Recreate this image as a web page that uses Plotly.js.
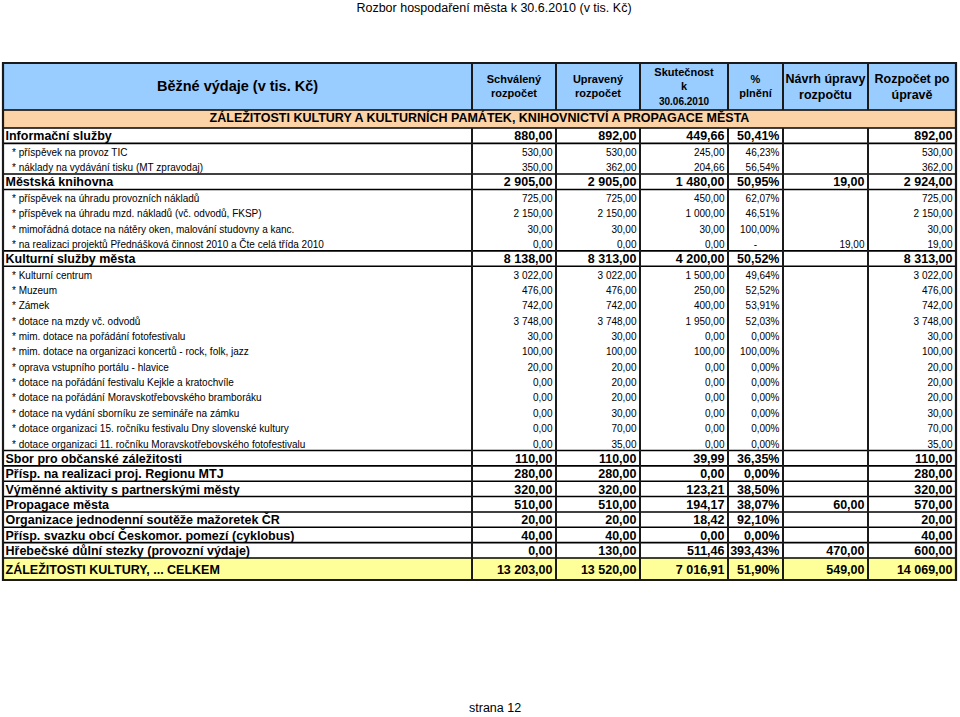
<!DOCTYPE html>
<html>
<head>
<meta charset="utf-8">
<script src="https://cdn.plot.ly/plotly-3.0.1.min.js"></script>
<style>
html,body{margin:0;padding:0;background:#ffffff;}
#chart{width:960px;height:717px;}
</style>
</head>
<body>
<div id="chart"></div>
<script>
// ---------------- DATA ----------------
const pageTitle = 'Rozbor hospodaření města k 30.6.2010 (v tis. Kč)';
const pageFooter = 'strana 12';
const sectionTitle = 'ZÁLEŽITOSTI KULTURY A KULTURNÍCH PAMÁTEK, KNIHOVNICTVÍ A PROPAGACE MĚSTA';

const columnHeaders = [
  'Běžné výdaje (v tis. Kč)',
  'Schválený<br>rozpočet',
  'Upravený<br>rozpočet',
  'Skutečnost<br>k<br><span style="font-size:10px">30.06.2010</span>',
  '%<br>plnění',
  'Návrh úpravy<br>rozpočtu',
  'Rozpočet po<br>úpravě'
];

const rowLabels = [
  'Informační služby',
  '* příspěvek na provoz TIC',
  '* náklady na vydávání tisku (MT zpravodaj)',
  'Městská knihovna',
  '* příspěvek na úhradu provozních nákladů',
  '* příspěvek na úhradu mzd. nákladů (vč. odvodů, FKSP)',
  '* mimořádná dotace na nátěry oken, malování studovny a kanc.',
  '* na realizaci projektů Přednášková činnost 2010 a Čte celá třída 2010',
  'Kulturní služby města',
  '* Kulturní centrum',
  '* Muzeum',
  '* Zámek',
  '* dotace na mzdy vč. odvodů',
  '* mim. dotace na pořádání fotofestivalu',
  '* mim. dotace na organizaci koncertů - rock, folk, jazz',
  '* oprava vstupního portálu - hlavice',
  '* dotace na pořádání festivalu Kejkle a kratochvíle',
  '* dotace na pořádání Moravskotřebovského bramboráku',
  '* dotace na vydání sborníku ze semináře na zámku',
  '* dotace organizaci 15. ročníku festivalu Dny slovenské kultury',
  '* dotace organizaci 11. ročníku Moravskotřebovského fotofestivalu',
  'Sbor pro občanské záležitosti',
  'Přísp. na realizaci proj. Regionu MTJ',
  'Výměnné aktivity s partnerskými městy',
  'Propagace města',
  'Organizace jednodenní soutěže mažoretek ČR',
  'Přísp. svazku obcí Českomor. pomezí (cyklobus)',
  'Hřebečské důlní stezky (provozní výdaje)',
  'ZÁLEŽITOSTI KULTURY, ... CELKEM'
];

// row kind: 'group' = summary row, 'item' = detail row, 'total' = grand total
const rowKinds = [
  'group','item','item',
  'group','item','item','item','item',
  'group','item','item','item','item','item','item','item','item','item','item','item','item',
  'group','group','group','group','group','group','group',
  'total'
];

const schvalenyRozpocet = [880, 530, 350, 2905, 725, 2150, 30, 0, 8138, 3022, 476, 742, 3748, 30, 100, 20, 0, 0, 0, 0, 0, 110, 280, 320, 510, 20, 40, 0, 13203];
const upravenyRozpocet  = [892, 530, 362, 2905, 725, 2150, 30, 0, 8313, 3022, 476, 742, 3748, 30, 100, 20, 20, 20, 30, 70, 35, 110, 280, 320, 510, 20, 40, 130, 13520];
const skutecnost        = [449.66, 245, 204.66, 1480, 450, 1000, 30, 0, 4200, 1500, 250, 400, 1950, 0, 100, 0, 0, 0, 0, 0, 0, 39.99, 0, 123.21, 194.17, 18.42, 0, 511.46, 7016.91];
const plneniPct         = [50.41, 46.23, 56.54, 50.95, 62.07, 46.51, 100, null, 50.52, 49.64, 52.52, 53.91, 52.03, 0, 100, 0, 0, 0, 0, 0, 0, 36.35, 0, 38.50, 38.07, 92.10, 0, 393.43, 51.90];
const navrhUpravy       = [null, null, null, 19, null, null, null, 19, null, null, null, null, null, null, null, null, null, null, null, null, null, null, null, null, 60, null, null, 470, 549];
const rozpocetPoUprave  = [892, 530, 362, 2924, 725, 2150, 30, 19, 8313, 3022, 476, 742, 3748, 30, 100, 20, 20, 20, 30, 70, 35, 110, 280, 320, 570, 20, 40, 600, 14069];

// ---------------- FORMATTING ----------------
function fmtNum(v) {
  if (v === null || v === undefined) return '';
  const parts = v.toFixed(2).split('.');
  const intPart = parts[0].replace(/\B(?=(\d{3})+(?!\d))/g, ' ');
  return intPart + ',' + parts[1];
}
function fmtPct(v) {
  if (v === null || v === undefined) return '-';
  return v.toFixed(2).replace('.', ',') + '%';
}

// ---------------- GEOMETRY (layout) ----------------
const W = 960, H = 717;
const colEdges = [3, 472, 556, 640, 728, 783, 868, 956];
const headerTop = 63, headerBottom = 110, sectionBottom = 128;
const bodyBottom = 558, totalBottom = 580;
const nBody = rowLabels.length - 1;
const rowH = (bodyBottom - sectionBottom) / nBody;
function rowTop(r) { return r < nBody ? sectionBottom + r * rowH : bodyBottom; }
function rowBottom(r) { return r < nBody ? sectionBottom + (r + 1) * rowH : totalBottom; }
function rowCenter(r) { return (rowTop(r) + rowBottom(r)) / 2; }

const FONT = 'Liberation Sans, Arial, Helvetica, sans-serif';
const BOLD_SIZE = 12.5, ITEM_SIZE = 10;

// ---------------- TEXT TRACES ----------------
const columns = [schvalenyRozpocet, upravenyRozpocet, skutecnost, plneniPct, navrhUpravy, rozpocetPoUprave];

const boldPts = {x: [], y: [], text: [], pos: []};
const itemPts = {x: [], y: [], text: [], pos: []};

rowLabels.forEach(function (label, r) {
  const kind = rowKinds[r];
  const isBold = kind !== 'item';
  const tgt = isBold ? boldPts : itemPts;
  const y = rowCenter(r) + (isBold ? 1.6 : 2.2);
  tgt.x.push(colEdges[0] + (isBold ? 2.5 : 9));
  tgt.y.push(y);
  tgt.text.push(isBold ? '<b>' + label + '</b>' : label);
  tgt.pos.push('middle right');
  columns.forEach(function (col, c) {
    const v = col[r];
    const s = (c === 3) ? fmtPct(v) : fmtNum(v);
    if (s === '') return;
    const left = colEdges[c + 1], right = colEdges[c + 2];
    if (s === '-') {
      tgt.x.push((left + right) / 2);
      tgt.pos.push('middle center');
    } else {
      tgt.x.push(right - 3.5);
      tgt.pos.push('middle left');
    }
    tgt.y.push(y);
    tgt.text.push(isBold ? '<b>' + s + '</b>' : s);
  });
});

const headerSizes = [14.5, 11, 11, 11, 11, 12.5, 12.5];
const headerTrace = {
  type: 'scatter', mode: 'text', hoverinfo: 'skip', cliponaxis: false, showlegend: false,
  x: columnHeaders.map(function (_, i) { return (colEdges[i] + colEdges[i + 1]) / 2; }),
  y: columnHeaders.map(function () { return (headerTop + headerBottom) / 2 + 1; }),
  text: columnHeaders.map(function (h) { return '<b>' + h + '</b>'; }),
  textposition: 'middle center',
  textfont: {family: FONT, size: headerSizes, color: '#000000'}
};

const sectionTrace = {
  type: 'scatter', mode: 'text', hoverinfo: 'skip', cliponaxis: false, showlegend: false,
  x: [(colEdges[0] + colEdges[colEdges.length - 1]) / 2],
  y: [(headerBottom + sectionBottom) / 2],
  text: ['<b>' + sectionTitle + '</b>'],
  textposition: 'middle center',
  textfont: {family: FONT, size: BOLD_SIZE, color: '#000000'}
};

const boldTrace = {
  type: 'scatter', mode: 'text', hoverinfo: 'skip', cliponaxis: false, showlegend: false,
  x: boldPts.x, y: boldPts.y, text: boldPts.text, textposition: boldPts.pos,
  textfont: {family: FONT, size: BOLD_SIZE, color: '#000000'}
};
const itemTrace = {
  type: 'scatter', mode: 'text', hoverinfo: 'skip', cliponaxis: false, showlegend: false,
  x: itemPts.x, y: itemPts.y, text: itemPts.text, textposition: itemPts.pos,
  textfont: {family: FONT, size: ITEM_SIZE, color: '#000000'}
};

// ---------------- SHAPES ----------------
const L = colEdges[0], R = colEdges[colEdges.length - 1];
const shapes = [];
function rect(x0, y0, x1, y1, fill) {
  shapes.push({type: 'rect', xref: 'x', yref: 'y', x0: x0, y0: y0, x1: x1, y1: y1,
    fillcolor: fill, line: {width: 0}, layer: 'below'});
}
function hline(y, w) {
  shapes.push({type: 'line', xref: 'x', yref: 'y', x0: L, x1: R, y0: y, y1: y,
    line: {color: '#000000', width: w || 1.5}, layer: 'above'});
}
function vline(x, y0, y1, w) {
  shapes.push({type: 'line', xref: 'x', yref: 'y', x0: x, x1: x, y0: y0, y1: y1,
    line: {color: '#1a1a1a', width: w || 2}, layer: 'above'});
}
rect(L, headerTop, R, headerBottom, '#99CCFF');
rect(L, headerBottom, R, sectionBottom, '#FBD3A6');
rect(L, rowTop(rowLabels.length - 1), R, rowBottom(rowLabels.length - 1), '#FFFF99');

const hYs = new Set([headerBottom, sectionBottom]);
rowKinds.forEach(function (k, r) {
  if (k !== 'item') {
    hYs.add(+rowTop(r).toFixed(3));
    hYs.add(+rowBottom(r).toFixed(3));
  }
});
hYs.forEach(function (y) { hline(y, 1.6); });
for (let i = 1; i < colEdges.length - 1; i++) {
  vline(colEdges[i], headerTop, headerBottom);
  vline(colEdges[i], sectionBottom, totalBottom);
}
shapes.push({type: 'rect', xref: 'x', yref: 'y', x0: L, y0: headerTop, x1: R, y1: totalBottom,
  fillcolor: 'rgba(0,0,0,0)', line: {color: '#1a1a1a', width: 2.2}, layer: 'above'});

// ---------------- LAYOUT ----------------
const layout = {
  width: W, height: H,
  margin: {l: 0, r: 0, t: 0, b: 0, pad: 0},
  paper_bgcolor: '#ffffff', plot_bgcolor: '#ffffff',
  showlegend: false,
  xaxis: {range: [0, W], visible: false, fixedrange: true},
  yaxis: {range: [H, 0], visible: false, fixedrange: true},
  title: {
    text: pageTitle,
    font: {family: FONT, size: 12.5, color: '#000000'},
    x: 494 / W, xanchor: 'center', xref: 'paper',
    y: 1 - 7.5 / H, yanchor: 'middle', yref: 'container'
  },
  annotations: [{
    xref: 'x', yref: 'y', x: 495, y: 708, text: pageFooter, showarrow: false,
    xanchor: 'center', yanchor: 'middle',
    font: {family: FONT, size: 12.5, color: '#000000'}
  }],
  shapes: shapes
};

Plotly.newPlot('chart', [headerTrace, sectionTrace, boldTrace, itemTrace], layout,
  {staticPlot: true, displayModeBar: false});
</script>
</body>
</html>
